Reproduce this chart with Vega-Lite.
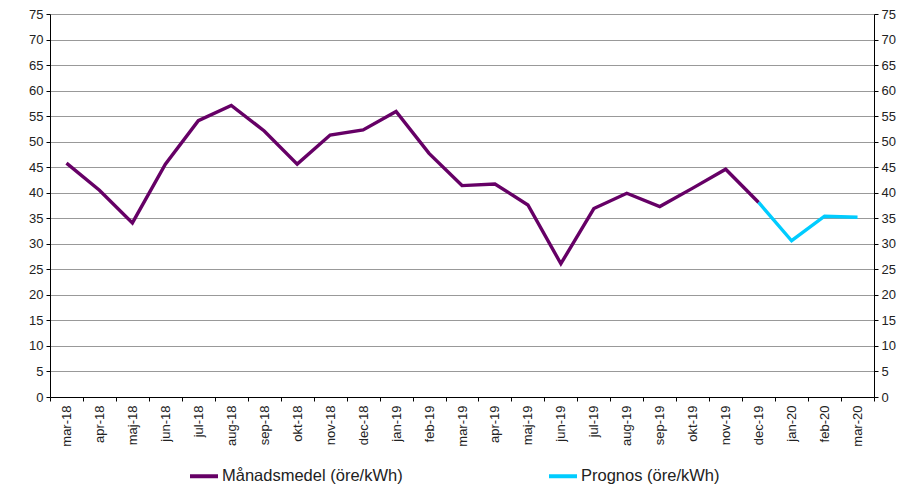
{
  "$schema": "https://vega.github.io/schema/vega-lite/v6.json",
  "autosize": "none",
  "width": 824,
  "height": 383,
  "padding": {"left": 50, "top": 14, "right": 41, "bottom": 91},
  "background": "white",
  "config": {
    "font": "Liberation Sans",
    "view": {"stroke": null},
    "axis": {"labelFont": "Liberation Sans", "labelColor": "#222", "domainColor": "#000", "tickColor": "#000", "gridColor": "#999", "gridWidth": 1, "gridOpacity": 1}
  },
  "data": {"values": [
    {"m": "mar-18", "s": "Månadsmedel (öre/kWh)", "v": 45.8},
    {"m": "apr-18", "s": "Månadsmedel (öre/kWh)", "v": 40.5},
    {"m": "maj-18", "s": "Månadsmedel (öre/kWh)", "v": 34.1},
    {"m": "jun-18", "s": "Månadsmedel (öre/kWh)", "v": 45.6},
    {"m": "jul-18", "s": "Månadsmedel (öre/kWh)", "v": 54.1},
    {"m": "aug-18", "s": "Månadsmedel (öre/kWh)", "v": 57.1},
    {"m": "sep-18", "s": "Månadsmedel (öre/kWh)", "v": 52.1},
    {"m": "okt-18", "s": "Månadsmedel (öre/kWh)", "v": 45.6},
    {"m": "nov-18", "s": "Månadsmedel (öre/kWh)", "v": 51.3},
    {"m": "dec-18", "s": "Månadsmedel (öre/kWh)", "v": 52.3},
    {"m": "jan-19", "s": "Månadsmedel (öre/kWh)", "v": 55.9},
    {"m": "feb-19", "s": "Månadsmedel (öre/kWh)", "v": 47.7},
    {"m": "mar-19", "s": "Månadsmedel (öre/kWh)", "v": 41.4},
    {"m": "apr-19", "s": "Månadsmedel (öre/kWh)", "v": 41.7},
    {"m": "maj-19", "s": "Månadsmedel (öre/kWh)", "v": 37.6},
    {"m": "jun-19", "s": "Månadsmedel (öre/kWh)", "v": 26.1},
    {"m": "jul-19", "s": "Månadsmedel (öre/kWh)", "v": 36.9},
    {"m": "aug-19", "s": "Månadsmedel (öre/kWh)", "v": 39.9},
    {"m": "sep-19", "s": "Månadsmedel (öre/kWh)", "v": 37.3},
    {"m": "okt-19", "s": "Månadsmedel (öre/kWh)", "v": 40.9},
    {"m": "nov-19", "s": "Månadsmedel (öre/kWh)", "v": 44.6},
    {"m": "dec-19", "s": "Månadsmedel (öre/kWh)", "v": 38.1},
    {"m": "dec-19", "s": "Prognos (öre/kWh)", "v": 38.1},
    {"m": "jan-20", "s": "Prognos (öre/kWh)", "v": 30.6},
    {"m": "feb-20", "s": "Prognos (öre/kWh)", "v": 35.4},
    {"m": "mar-20", "s": "Prognos (öre/kWh)", "v": 35.2}
  ]},
  "encoding": {
    "x": {
      "field": "m", "type": "ordinal",
      "sort": ["mar-18","apr-18","maj-18","jun-18","jul-18","aug-18","sep-18","okt-18","nov-18","dec-18","jan-19","feb-19","mar-19","apr-19","maj-19","jun-19","jul-19","aug-19","sep-19","okt-19","nov-19","dec-19","jan-20","feb-20","mar-20"],
      "scale": {"type": "band", "paddingInner": 0, "paddingOuter": 0},
      "axis": {"title": null, "labelAngle": -90, "labelFontSize": 13, "tickBand": "extent", "tickSize": 4, "labelPadding": 4, "grid": false, "domainWidth": 1}
    }
  },
  "layer": [
    {
      "mark": {"type": "line", "strokeWidth": 3.4, "strokeJoin": "miter"},
      "encoding": {
        "y": {"field": "v", "type": "quantitative", "scale": {"domain": [0, 75], "nice": false}, "axis": {"title": null, "orient": "left", "values": [0,5,10,15,20,25,30,35,40,45,50,55,60,65,70,75], "labelFontSize": 13, "tickSize": 4, "labelPadding": 3}},
        "color": {
          "field": "s", "type": "nominal",
          "scale": {"domain": ["Månadsmedel (öre/kWh)", "Prognos (öre/kWh)"], "range": ["#660066", "#00CCFF"]},
          "legend": {"title": null, "orient": "none", "legendX": 138, "legendY": 446, "direction": "horizontal", "symbolType": "stroke", "symbolStrokeWidth": 4, "symbolSize": 784, "labelFontSize": 16.5, "labelColor": "#222", "labelOffset": 2, "columnPadding": 138, "labelLimit": 400}
        }
      }
    },
    {
      "mark": {"type": "line", "opacity": 0},
      "encoding": {
        "y": {"field": "v", "type": "quantitative", "scale": {"domain": [0, 75], "nice": false}, "axis": {"title": null, "orient": "right", "grid": false, "values": [0,5,10,15,20,25,30,35,40,45,50,55,60,65,70,75], "labelFontSize": 13, "tickSize": 4, "labelPadding": 3}},
        "detail": {"field": "s"}
      }
    }
  ],
  "resolve": {"scale": {"y": "independent"}}
}
